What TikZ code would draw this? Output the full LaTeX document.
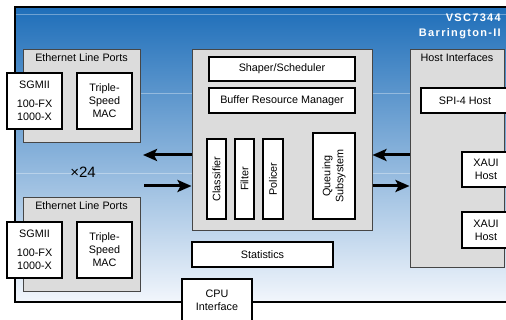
\documentclass[tikz,border=0pt]{standalone}
\usepackage{fontspec}
\setmainfont{Liberation Sans}
\usepackage{tikz}
\usetikzlibrary{arrows.meta}
\usetikzlibrary{positioning}
\definecolor{chiptop}{RGB}{30,110,185}
\definecolor{chipmid}{RGB}{104,153,212}
\definecolor{chipbot}{RGB}{242,246,252}
\definecolor{panelgray}{RGB}{220,220,220}
\definecolor{panelline}{RGB}{70,70,70}
\newcommand\boxfont{\fontsize{10.8}{13}\selectfont}
\tikzstyle{panel}=[draw=panelline,fill=panelgray,line width=1pt,inner sep=0pt]
\tikzstyle{unit}=[draw=black,fill=white,line width=1.3pt,inner sep=0pt,align=center,font=\boxfont]
\tikzstyle{vunit}=[unit,rotate=90]
\tikzstyle{caption}=[font=\boxfont,inner sep=2pt]
\tikzstyle{title}=[anchor=east,text=white,inner sep=0pt,font=\fontsize{11}{13}\selectfont\bfseries\addfontfeature{LetterSpace=12}]
\tikzstyle{bus}=[line width=3pt,-{Stealth[length=14pt,width=12pt,inset=3pt]}]

\begin{document}
\begin{tikzpicture}[x=1pt,y=-1pt]
\useasboundingbox (0,0) rectangle (506,320);
\clip (0,0) rectangle (506,320);
\shade[top color=chiptop,middle color=chipmid,bottom color=chipbot] (15,7) rectangle (520,302);
\foreach \ypos in {14,93,173}
  \draw[white,opacity=.35,line width=.7pt] (15,\ypos) -- (520,\ypos);
\draw[line width=1.3pt] (15,7) rectangle (520,302);
\node[title] (chip) at (501,18) {VSC7344};
\node[title] (codename) at (501,34) {Barrington-II};

\node[panel,minimum width=117pt,minimum height=93pt] (portsA) at (81.5,96.5) {};
\node[caption,below=2pt of portsA.north] (portsAcap) {Ethernet Line Ports};
\node[unit,minimum width=55pt,minimum height=56pt] (sgmiiA) at (34.5,101) {SGMII\\[6pt]100-FX\\1000-X};
\node[unit,minimum width=55pt,minimum height=56pt] (macA) at (104.5,101) {Triple-\\Speed\\MAC};

\node[font=\fontsize{15}{17}\selectfont] (count) at (83,172) {×24};

\node[panel,minimum width=117pt,minimum height=94pt] (portsB) at (81.5,245) {};
\node[caption,below=2pt of portsB.north] (portsBcap) {Ethernet Line Ports};
\node[unit,minimum width=55pt,minimum height=56pt] (sgmiiB) at (34.5,250) {SGMII\\[6pt]100-FX\\1000-X};
\node[unit,minimum width=55pt,minimum height=56pt] (macB) at (104.5,250) {Triple-\\Speed\\MAC};

\node[panel,minimum width=180pt,minimum height=181pt] (core) at (282,140.5) {};
\node[unit,minimum width=146pt,minimum height=24pt] (shaper) at (282,69) {Shaper/Scheduler};
\node[unit,minimum width=146pt,minimum height=25pt] (buffer) at (282,100.5) {Buffer Resource Manager};
\node[vunit,minimum width=80pt,minimum height=19pt] (classifier) at (216.5,179) {Classifier};
\node[vunit,minimum width=80pt,minimum height=19pt] (filter) at (244.5,179) {Filter};
\node[vunit,minimum width=80pt,minimum height=20pt] (policer) at (273,179) {Policer};
\node[vunit,minimum width=86pt,minimum height=42pt] (queuing) at (334,176) {Queuing\\Subsystem};
\node[unit,minimum width=141pt,minimum height=25pt] (stats) at (262.5,254.5) {Statistics};
\node[unit,minimum width=70pt,minimum height=42pt] (cpu) at (217,300) {CPU\\Interface};

\node[panel,minimum width=94pt,minimum height=218pt] (host) at (457,159) {};
\node[caption,below=2pt of host.north] (hostcap) {Host Interfaces};
\node[unit,minimum width=88pt,minimum height=25pt] (spi) at (465,100.5) {SPI-4 Host};
\node[unit,minimum width=48pt,minimum height=35pt] (xauiA) at (486,169.5) {XAUI\\Host};
\node[unit,minimum width=48pt,minimum height=36pt] (xauiB) at (486,230) {XAUI\\Host};

\coordinate (toPorts) at (143,155);
\coordinate (fromPorts) at (144,186);
\draw[bus] (core.west |- toPorts) -- (toPorts);
\draw[bus] (fromPorts) -- (core.west |- fromPorts);
\draw[bus] (host.west |- toPorts) -- (core.east |- toPorts);
\draw[bus] (core.east |- fromPorts) -- (host.west |- fromPorts);
\end{tikzpicture}
\end{document}
